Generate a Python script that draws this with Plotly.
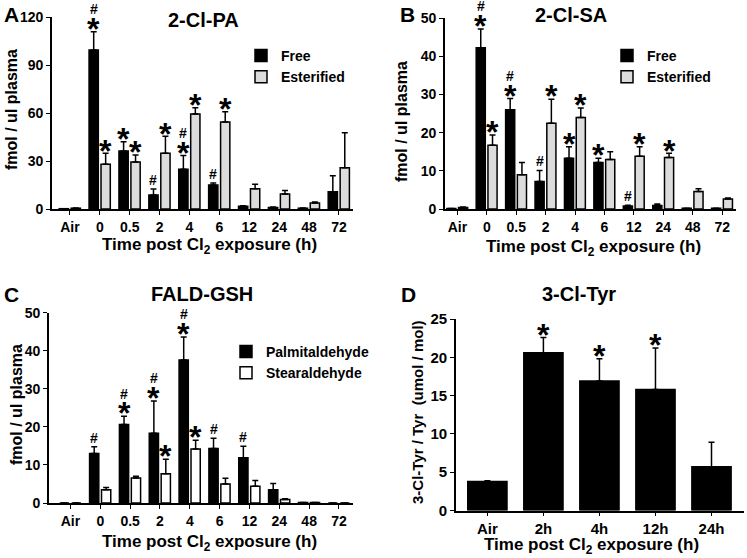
import plotly.graph_objects as go

W, H = 747, 558
FONT = "Liberation Sans, Arial, sans-serif"

# ---------------- data ----------------
A_cats = ["Air", "0", "0.5", "2", "4", "6", "12", "24", "48", "72"]
A_free = [0.2, 99.4, 36.2, 8.7, 24.8, 15.0, 1.7, 1.0, 0.5, 10.8]
A_free_err = [0, 11.4, 5.8, 3.8, 8.7, 1.3, 0.3, 0.2, 0.1, 10.0]
A_est = [0.5, 27.9, 29.4, 34.8, 59.4, 54.4, 12.7, 9.4, 3.7, 25.8]
A_est_err = [0.1, 6.9, 4.3, 10.6, 3.9, 6.4, 2.7, 2.1, 0.7, 21.9]
A_free_sig = ["", "*#", "*", "#", "*#", "#", "", "", "", ""]
A_est_sig = ["", "*", "*", "*", "*", "*", "", "", "", ""]

B_cats = ["Air", "0", "0.5", "2", "4", "6", "12", "24", "48", "72"]
B_free = [0.1, 42.3, 26.0, 7.2, 13.3, 12.2, 0.8, 0.9, 0.2, 0.2]
B_free_err = [0, 4.9, 3.0, 2.9, 3.0, 1.1, 0.2, 0.4, 0, 0]
B_est = [0.4, 16.7, 9.0, 22.5, 24.0, 13.0, 13.8, 13.5, 4.6, 2.6]
B_est_err = [0.1, 2.7, 3.2, 6.3, 2.5, 2.0, 2.5, 1.1, 0.7, 0.3]
B_free_sig = ["", "*#", "*#", "#", "*", "*", "#", "", "", ""]
B_est_sig = ["", "*", "", "*", "*", "", "*", "*", "", ""]

C_cats = ["Air", "0", "0.5", "2", "4", "6", "12", "24", "48", "72"]
C_palm = [0, 13.0, 20.6, 18.3, 37.6, 14.3, 11.9, 3.5, 0.1, 0]
C_palm_err = [0, 1.8, 2.2, 8.5, 6.0, 2.7, 3.0, 1.6, 0, 0]
C_stear = [0, 3.5, 6.6, 7.7, 14.2, 5.0, 4.4, 0.9, 0.1, 0]
C_stear_err = [0, 0.6, 0.4, 3.8, 2.3, 1.5, 1.5, 0.2, 0, 0]
C_palm_sig = ["", "#", "*#", "*#", "*#", "#", "#", "", "", ""]
C_stear_sig = ["", "", "", "*", "*", "", "", "", "", ""]

D_cats = ["Air", "2h", "4h", "12h", "24h"]
D_vals = [3.8, 20.6, 16.9, 15.8, 5.7]
D_err = [0.1, 2.0, 2.9, 5.4, 3.2]
D_sig = ["", "*", "*", "*", ""]

A_yticks = [0, 30, 60, 90, 120]
B_yticks = [0, 10, 20, 30, 40, 50]
C_yticks = [0, 10, 20, 30, 40, 50]
D_yticks = [0, 5, 10, 15, 20, 25]

XTITLE = "Time post Cl<sub>2</sub> exposure (h)"


def px_x(p):
    return p / W


def px_y(p):
    return 1 - p / H


fig = go.Figure()

# panel geometry: (x-left px, x-right px, y-bottom px, y-top px)
panels = {
    "": dict(x=(52, 353), y=(209, 17), xr=[-0.6, 9.47], yr=[0, 120], ticks=A_yticks, cats=A_cats, tf=14),
    "2": dict(x=(445, 736), y=(209, 18.3), xr=[-0.42, 9.47], yr=[0, 50], ticks=B_yticks, cats=B_cats, tf=14),
    "3": dict(x=(49, 353), y=(503, 312.7), xr=[-0.72, 9.47], yr=[0, 50], ticks=C_yticks, cats=C_cats, tf=14),
    "4": dict(x=(456, 744), y=(510.5, 319), xr=[-0.56, 4.58], yr=[0, 25], ticks=D_yticks, cats=D_cats, tf=15),
}

axis_common = dict(
    showgrid=False, zeroline=False, showline=True, linecolor="black", linewidth=1.6,
    ticks="outside", ticklen=4, tickwidth=1.4, tickcolor="black", automargin=False,
)

for k, p in panels.items():
    tfont = dict(family=FONT, size=p["tf"], color="black", weight="bold")
    fig.layout["xaxis" + k] = dict(
        domain=[px_x(p["x"][0]), px_x(p["x"][1])], range=p["xr"], anchor="y" + k,
        tickvals=list(range(len(p["cats"]))), ticktext=p["cats"], fixedrange=True,
        tickfont=tfont, **axis_common)
    fig.layout["yaxis" + k] = dict(
        domain=[px_y(p["y"][0]), px_y(p["y"][1])], range=p["yr"], anchor="x" + k,
        tickvals=p["ticks"], fixedrange=True, tickfont=tfont, **axis_common)


def errs(e):
    return [v if v > 0 else None for v in e]


def add_bars(cats, vals, err, name, fill, k, offset, width, legend, showlegend=True):
    idx = list(range(len(cats)))
    fig.add_trace(go.Bar(
        x=idx, y=vals, name=name, offset=offset, width=width,
        marker=dict(color=fill, line=dict(color="black", width=1.5)),
        error_y=dict(type="data", symmetric=False, array=errs(err), arrayminus=[0] * len(err),
                     color="black", thickness=1.5, width=3),
        xaxis="x" + k, yaxis="y" + k, legend=legend, showlegend=showlegend,
    ))


STAR_FS = 32
HASH_FS = 14


def add_sig(vals, err, sig, k, offset, width):
    for i, s in enumerate(sig):
        if not s:
            continue
        top = vals[i] + err[i]
        cur = 0
        xc = i + offset + width / 2
        for ch in s:
            if ch == "*":
                fig.add_annotation(x=xc, y=top, xref="x" + k, yref="y" + k, text="*",
                                   showarrow=False, yanchor="bottom",
                                   yshift=cur + 2 - 0.6 * STAR_FS,
                                   font=dict(family=FONT, size=STAR_FS, color="black", weight="bold"))
                cur += 2 + 0.36 * STAR_FS
            else:
                fig.add_annotation(x=xc, y=top, xref="x" + k, yref="y" + k, text="#",
                                   showarrow=False, yanchor="bottom",
                                   yshift=cur + 3 - 0.21 * HASH_FS - 1,
                                   font=dict(family=FONT, size=HASH_FS, color="black", weight="bold"))
                cur += 3 + 0.72 * HASH_FS


OFF_L, OFF_R, BW = -0.36, 0.04, 0.31

# Panel A
add_bars(A_cats, A_free, A_free_err, "Free", "black", "", OFF_L, BW, "legend")
add_bars(A_cats, A_est, A_est_err, "Esterified", "#dcdcdc", "", OFF_R, BW, "legend")
add_sig(A_free, A_free_err, A_free_sig, "", OFF_L, BW)
add_sig(A_est, A_est_err, A_est_sig, "", OFF_R, BW)

# Panel B
add_bars(B_cats, B_free, B_free_err, "Free", "black", "2", OFF_L, BW, "legend2")
add_bars(B_cats, B_est, B_est_err, "Esterified", "#dcdcdc", "2", OFF_R, BW, "legend2")
add_sig(B_free, B_free_err, B_free_sig, "2", OFF_L, BW)
add_sig(B_est, B_est_err, B_est_sig, "2", OFF_R, BW)

# Panel C
add_bars(C_cats, C_palm, C_palm_err, "Palmitaldehyde", "black", "3", OFF_L, BW, "legend3")
add_bars(C_cats, C_stear, C_stear_err, "Stearaldehyde", "white", "3", OFF_R, BW, "legend3")
add_sig(C_palm, C_palm_err, C_palm_sig, "3", OFF_L, BW)
add_sig(C_stear, C_stear_err, C_stear_sig, "3", OFF_R, BW)

# Panel D
add_bars(D_cats, D_vals, D_err, "3-Cl-Tyr", "black", "4", -0.35, 0.7, "legend", showlegend=False)
add_sig(D_vals, D_err, D_sig, "4", -0.35, 0.7)

legend_style = dict(font=dict(family=FONT, size=14, color="black", weight="bold"),
                    bgcolor="rgba(0,0,0,0)", xanchor="left", yanchor="top",
                    tracegroupgap=0, itemclick=False, itemdoubleclick=False)
fig.update_layout(
    legend=dict(x=px_x(241), y=px_y(40), **legend_style),
    legend2=dict(x=px_x(607), y=px_y(40), **legend_style),
    legend3=dict(x=px_x(226), y=px_y(336), **legend_style),
)


def text(xp, yp, s, size, angle=0):
    fig.add_annotation(x=px_x(xp), y=px_y(yp), xref="paper", yref="paper", text=s,
                       showarrow=False, xanchor="center", yanchor="middle", textangle=angle,
                       font=dict(family=FONT, size=size, color="black", weight="bold"))


# panel letters
text(11, 15, "A", 21)
text(407, 15, "B", 21)
text(11, 294, "C", 21)
text(408, 294, "D", 21)
# titles
text(203, 20, "2-Cl-PA", 20)
text(571, 15, "2-Cl-SA", 20)
text(202, 294, "FALD-GSH", 20)
text(579, 294, "3-Cl-Tyr", 20)
# x titles
text(209, 246, XTITLE, 17)
text(593, 248, XTITLE, 17)
text(209, 543, XTITLE, 17)
text(591, 546, XTITLE, 17)
# y titles
text(12, 110, "fmol / ul plasma", 16, -90)
text(402, 122, "fmol / ul plasma", 16, -90)
text(16, 405, "fmol / ul plasma", 16, -90)
text(417, 412, "3-Cl-Tyr / Tyr  (umol / mol)", 15, -90)

fig.update_layout(
    width=W, height=H, margin=dict(l=0, r=0, t=0, b=0, pad=0, autoexpand=False),
    paper_bgcolor="white", plot_bgcolor="white",
    barmode="overlay", showlegend=True,
    font=dict(family=FONT, color="black"),
)

fig.write_html("out.html", config={"displayModeBar": False},
               post_script="document.body.style.margin='0';document.body.style.overflow='hidden';")
